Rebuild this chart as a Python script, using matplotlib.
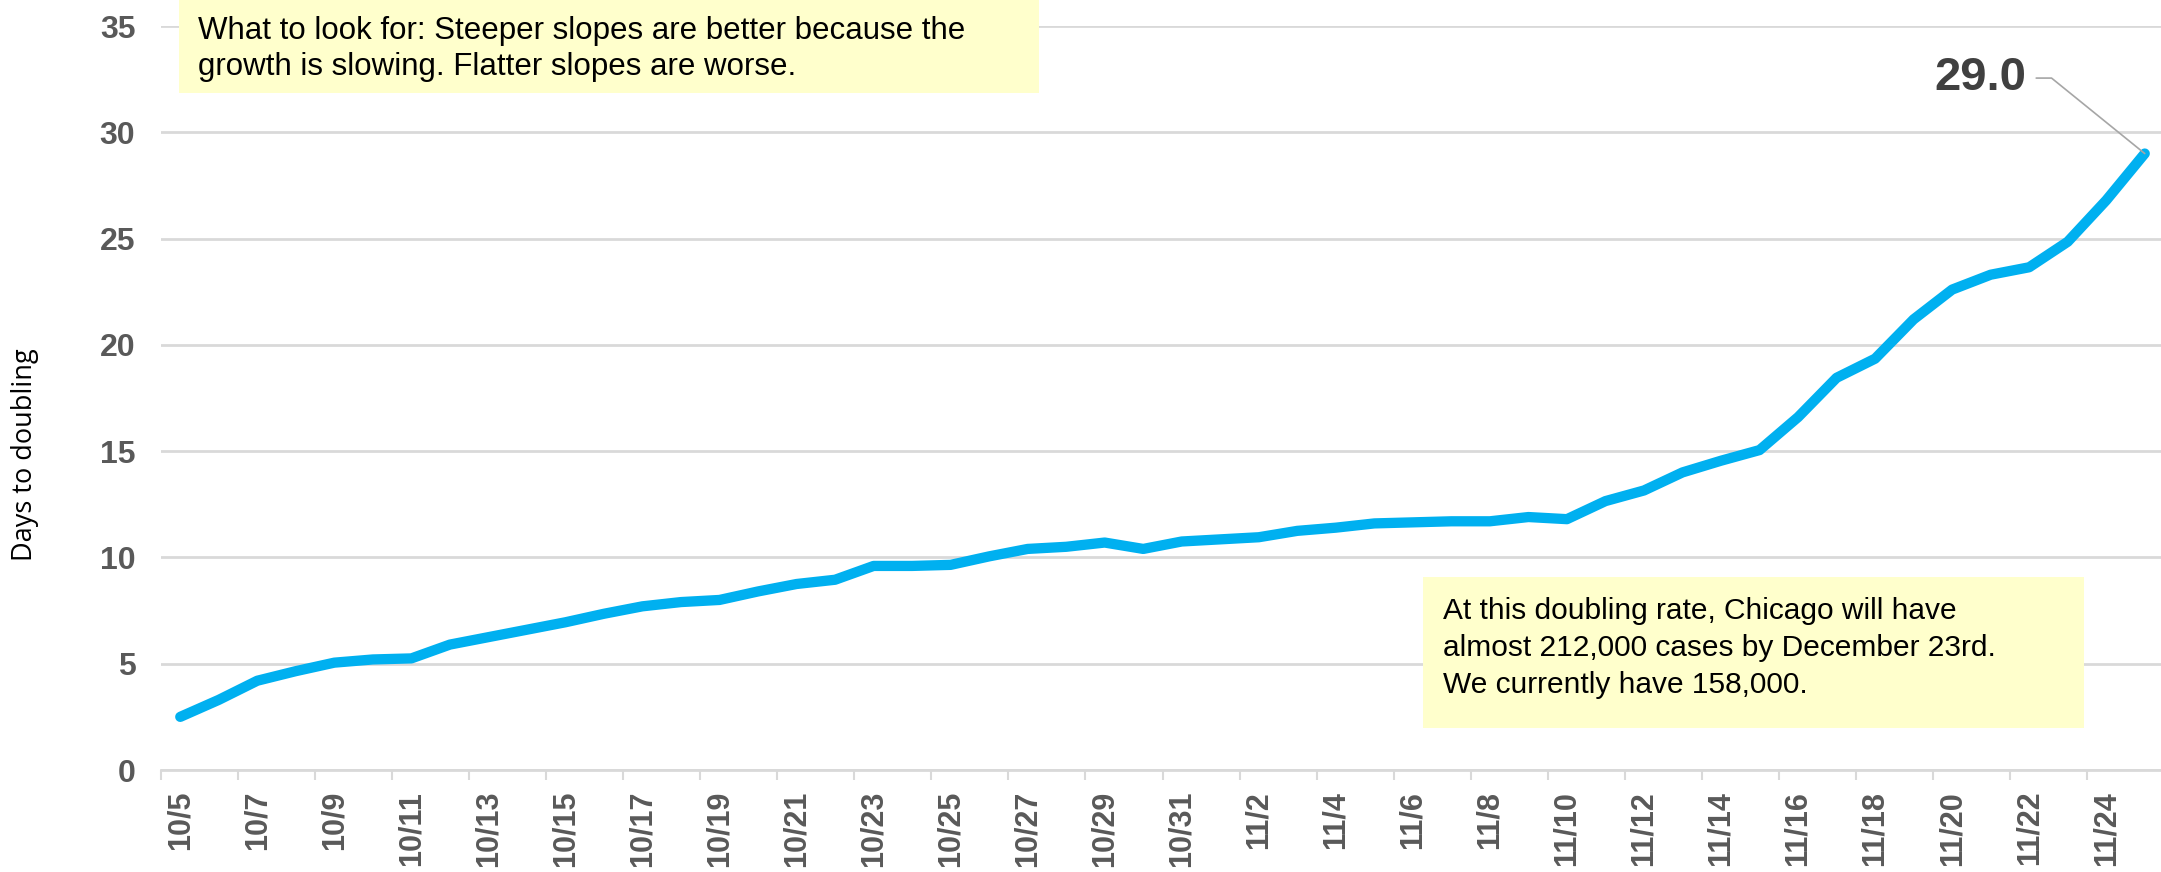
import numpy as np
import pandas as pd
import matplotlib
matplotlib.use("Agg")
import matplotlib.pyplot as plt
from matplotlib.patches import Rectangle

plt.rcParams['font.family'] = ['Liberation Sans', 'DejaVu Sans']

# Days 10/5 .. 11/25
dates = pd.date_range("2020-10-05", "2020-11-25")
day_labels = [f"{d.month}/{d.day}" for d in dates]

days_to_doubling = [
    2.5, 3.3, 4.2, 4.65, 5.05, 5.2, 5.25, 5.9, 6.25, 6.6,
    6.95, 7.35, 7.7, 7.9, 8.0, 8.4, 8.75, 8.95, 9.6, 9.6,
    9.65, 10.05, 10.4, 10.5, 10.7, 10.4, 10.75, 10.85, 10.95, 11.25,
    11.4, 11.6, 11.65, 11.7, 11.7, 11.9, 11.8, 12.65, 13.15, 14.0,
    14.55, 15.05, 16.6, 18.45, 19.35, 21.2, 22.6, 23.3, 23.65, 24.85,
    26.8, 29.0,
]

note_top = ("What to look for: Steeper slopes are better because the\n"
            "growth is slowing. Flatter slopes are worse.")
note_bottom = ("At this doubling rate, Chicago will have\n"
               "almost 212,000 cases by December 23rd.\n"
               "We currently have 158,000.")

line_color = "#00B0F0"
tick_color = "#595959"
grid_color = "#D9D9D9"
box_color = "#FFFFCC"

W, H = 2161, 872
fig = plt.figure(figsize=(W / 100, H / 100), dpi=100)
ax = fig.add_axes([161 / W, 1 - 770 / H, 2003 / W, 744 / H])

x = np.arange(len(days_to_doubling))
ax.plot(x, days_to_doubling, color=line_color, lw=7.4, solid_capstyle="round",
        solid_joinstyle="round", zorder=3)

ax.set_xlim(-0.5, len(x) - 0.5)
ax.set_ylim(0, 35)
ax.set_yticks(np.arange(0, 36, 5))
ax.yaxis.grid(True, color=grid_color, lw=2)
ax.set_axisbelow(True)
for s in ["top", "right", "left"]:
    ax.spines[s].set_visible(False)
ax.spines["bottom"].set_color(grid_color)
ax.spines["bottom"].set_linewidth(2)

# tick marks on category boundaries, labels centred on every second day
ax.set_xticks(np.arange(-0.5, len(x) - 1, 2))
ax.set_xticklabels([])
ax.tick_params(axis="x", which="major", length=7, width=1.5, color=grid_color)
ax.set_xticks(x[::2], minor=True)
ax.set_xticklabels(day_labels[::2], minor=True, rotation=90, fontsize=22,
                   fontweight="bold", color=tick_color)
ax.tick_params(axis="x", which="minor", length=0, pad=15)
ax.tick_params(axis="y", length=0, labelsize=23, labelcolor=tick_color, pad=18.5)
for lab in ax.get_yticklabels():
    lab.set_fontweight("bold")

ax.set_ylabel("Days to doubling", fontsize=19.5, family=["Open Sans", "DejaVu Sans"],
              va="center")
ax.yaxis.set_label_coords(-(161 - 25) / 2003, (770 - 455) / 744)

# last value label with leader line
ax.annotate(f"{days_to_doubling[-1]:.1f}", xy=(x[-1], days_to_doubling[-1]),
            xytext=(47.93, 32.55), textcoords="data", ha="right", va="center",
            fontsize=34, fontweight="bold", color="#404040",
            arrowprops=dict(arrowstyle="-", color="#A6A6A6", lw=1.2,
                            connectionstyle="angle,angleA=0,angleB=141,rad=0",
                            shrinkA=5, shrinkB=0))

# note boxes
fig.patches.append(Rectangle((179 / W, 1 - 93 / H), 860 / W, 93 / H,
                             transform=fig.transFigure, fc=box_color, ec="none",
                             zorder=5))
fig.text(198 / W, 1 - 16 / H, note_top, fontsize=22.5, va="top", ha="left",
         linespacing=1.28, zorder=6)

fig.patches.append(Rectangle((1423 / W, 1 - 728 / H), 661 / W, 151 / H,
                             transform=fig.transFigure, fc=box_color, ec="none",
                             zorder=5))
fig.text(1443 / W, 1 - 597 / H, note_bottom, fontsize=21.5, va="top", ha="left",
         linespacing=1.42, zorder=6)

fig.savefig("out.png", dpi=100)
